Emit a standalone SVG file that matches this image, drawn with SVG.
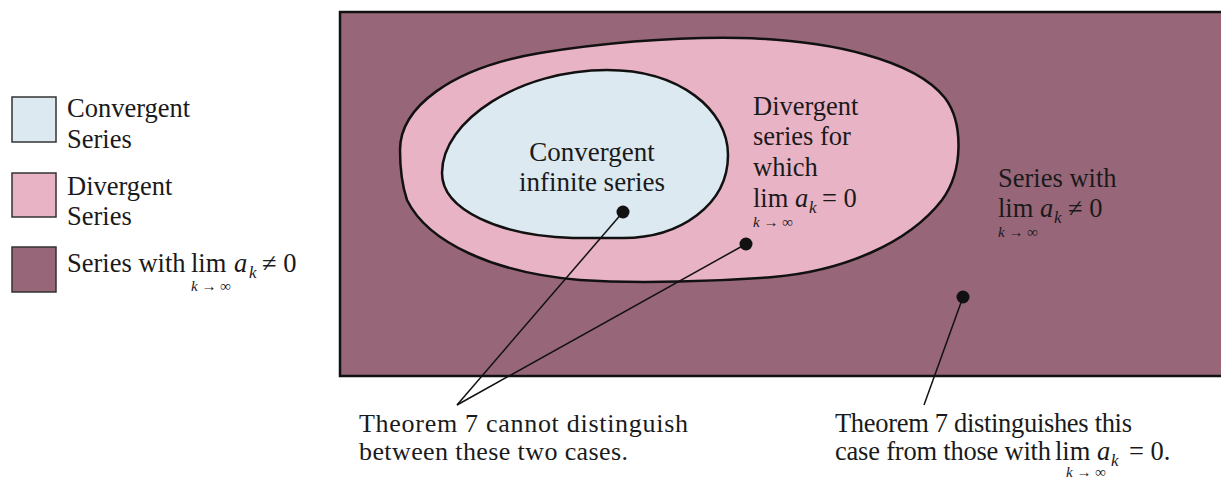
<svg xmlns="http://www.w3.org/2000/svg" width="1221" height="480" viewBox="0 0 1221 480">
<style>
text{font-family:"Liberation Serif","Times New Roman",serif;font-size:26.5px;fill:#1a1a1a}
.big{font-size:27px}
.note{font-size:26px}
.it{font-style:italic}
.sub{font-size:17px;font-style:italic}
.ss{font-size:15px}
.dark{fill:#986679}
.pink{fill:#e9b3c6}
.blue{fill:#dce9f0}
.edge{stroke:#111;stroke-width:2.5}
.lead{stroke:#111;stroke-width:1.5;fill:none}
</style>
<rect width="1221" height="480" fill="#ffffff"/>
<g id="legend">
<g id="legend-convergent">
<rect x="12" y="97" width="44" height="45" class="blue" stroke="#333" stroke-width="1.5"/>
<text x="67" y="117">Convergent</text>
<text x="67" y="148">Series</text>
</g>
<g id="legend-divergent">
<rect x="12" y="173" width="44" height="44" class="pink" stroke="#333" stroke-width="1.5"/>
<text x="67" y="195">Divergent</text>
<text x="67" y="225">Series</text>
</g>
<g id="legend-nonzero">
<rect x="12" y="247" width="44" height="45" class="dark" stroke="#333" stroke-width="1.5"/>
<text x="67" y="272">Series with</text>
<text x="191" y="272">lim</text>
<text x="234" y="272" class="it">a</text>
<text x="249" y="278" class="sub">k</text>
<text x="262" y="272">≠ 0</text>
<text x="191" y="291" class="sub ss">k → ∞</text>
</g>
</g>
<g id="region-nonzero">
<rect x="340" y="12" width="895" height="364" class="dark edge"/>
<text x="998" y="187">Series with</text>
<text x="998" y="217">lim</text>
<text x="1040" y="217" class="it">a</text>
<text x="1054" y="223" class="sub">k</text>
<text x="1068" y="217">≠ 0</text>
<text x="998" y="237" class="sub ss">k → ∞</text>
<circle cx="963" cy="297" r="6.5" fill="#111"/>
</g>
<g id="region-divergent">
<path d="M400,150 C400,108 450,68 540,53 C610,42 680,37 740,38 C830,40 915,60 945,98 C963,122 964,170 942,200 C908,244 842,271 773,277 C720,281 640,284 580,280 C495,273 428,243 407,200 C402,185 400,168 400,150 Z" class="pink edge"/>
<text x="753" y="115">Divergent</text>
<text x="753" y="145">series for</text>
<text x="753" y="176">which</text>
<text x="753" y="207">lim</text>
<text x="795" y="207" class="it">a</text>
<text x="809" y="213" class="sub">k</text>
<text x="822" y="207">= 0</text>
<text x="753" y="227" class="sub ss">k → ∞</text>
<circle cx="746" cy="244" r="6.5" fill="#111"/>
</g>
<g id="region-convergent">
<path d="M442,173 C442,120 520,70 607,70 C680,70 728,110 728,155 C728,205 680,238 623,238 L573,238 C500,236 442,210 442,173 Z" class="blue edge"/>
<text x="592" y="161" text-anchor="middle" class="big">Convergent</text>
<text x="592" y="191" text-anchor="middle" class="big">infinite series</text>
<circle cx="623" cy="212" r="6.5" fill="#111"/>
</g>
<g id="connectors">
<line x1="623" y1="212" x2="457" y2="405" class="lead"/>
<line x1="746" y1="244" x2="457" y2="405" class="lead"/>
<line x1="963" y1="297" x2="924" y2="405" class="lead"/>
</g>
<g id="note-left">
<text x="359" y="432" class="note" textLength="329" lengthAdjust="spacing">Theorem 7 cannot distinguish</text>
<text x="359" y="460" class="note" textLength="269" lengthAdjust="spacing">between these two cases.</text>
</g>
<g id="note-right">
<text x="835" y="432" textLength="297" lengthAdjust="spacing">Theorem 7 distinguishes this</text>
<text x="835" y="460" textLength="216" lengthAdjust="spacing">case from those with</text>
<text x="1055" y="460">lim</text>
<text x="1097" y="460" class="it">a</text>
<text x="1111" y="466" class="sub">k</text>
<text x="1129" y="460">= 0.</text>
<text x="1066" y="477" class="sub ss">k → ∞</text>
</g>
</svg>
